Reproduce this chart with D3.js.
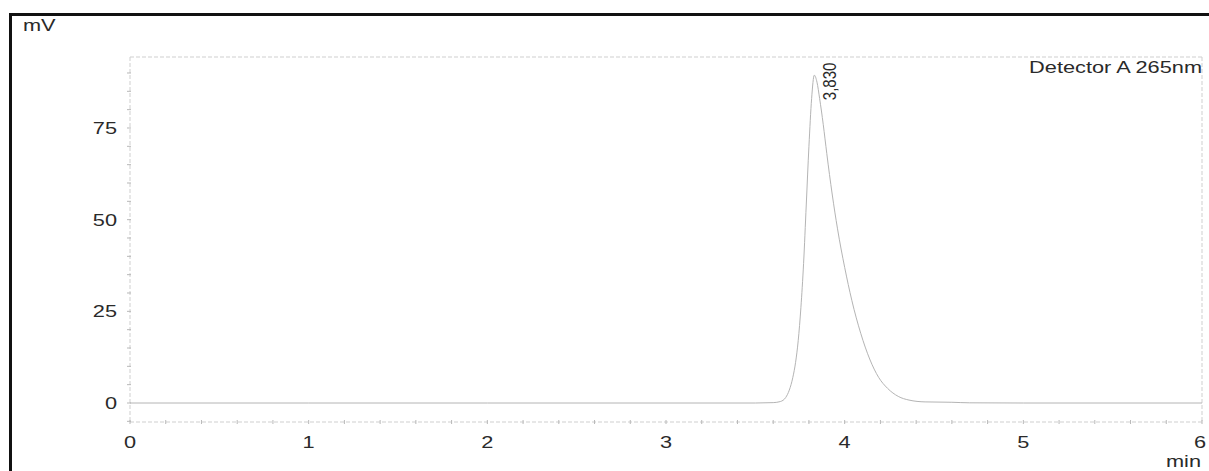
<!DOCTYPE html>
<html>
<head>
<meta charset="utf-8">
<script src="https://cdn.jsdelivr.net/npm/d3@7"></script>
<style>
  body { margin: 0; background: #fff; }
  text { font-family: "Liberation Sans", Arial, sans-serif; fill: #2a2a2a; }
</style>
</head>
<body>
<div id="graph1"></div>
<script>
// chromatogram trace, time in min, signal in mV
const times   = [0, 1, 2, 3, 3.5, 3.6, 3.64, 3.67, 3.69, 3.71, 3.725, 3.74, 3.755, 3.77, 3.785, 3.80, 3.815, 3.83, 3.845, 3.86, 3.88, 3.90, 3.93, 3.96, 4.00, 4.04, 4.09, 4.14, 4.19, 4.24, 4.30, 4.36, 4.45, 4.6, 4.7, 5, 6]
const signal  = [0, 0, 0, 0, 0, 0.1, 0.4, 1.5, 3.5, 7, 11, 17, 26, 38, 54, 70, 83, 89.4, 87.5, 83, 76, 68, 57, 47.5, 37, 28, 19, 12, 7, 4, 1.8, 0.8, 0.3, 0.2, 0.05, 0, 0]
const xTicks  = [0, 1, 2, 3, 4, 5, 6]
const yTicks  = [0, 25, 50, 75]
const peakTime  = 3.83
const peakValue = 89.4
const peakLabel = "3,830"
const detectorLabel = "Detector A 265nm"

const width = 1209, height = 471
const sx = 1.28  // the scan is stretched sideways, so is the text

let svg = d3.select("#graph1")
    .append("svg")
    .attr("width", width)
    .attr("height", height)

// frame of the printout
svg.append("path")
    .attr("d", `M10.5,${height} L10.5,14.5 L${width},14.5`)
    .attr("fill", "none")
    .attr("stroke", "#111")
    .attr("stroke-width", 3)

let x = d3.scaleLinear().domain([0, 6]).range([130, 1202])
let y = d3.scaleLinear().domain([-5.18, 94.36]).range([422, 57])

const grey = "#cfcfcf"

// plot box: top, right, baseline and axis lines
let box = svg.append("g").attr("stroke", grey).attr("stroke-width", 1).attr("stroke-dasharray", "4,2")
box.append("line").attr("x1", x(0)).attr("x2", x(6)).attr("y1", y(94.36)).attr("y2", y(94.36))
box.append("line").attr("x1", x(6)).attr("x2", x(6)).attr("y1", y(94.36)).attr("y2", y(-5.18))
box.append("line").attr("x1", x(0)).attr("x2", x(0)).attr("y1", y(94.36)).attr("y2", y(-5.18))
box.append("line").attr("x1", x(0)).attr("x2", x(6)).attr("y1", y(-5.18)).attr("y2", y(-5.18))

// minor ticks
let minorX = d3.range(0, 6.001, 0.2)
svg.append("g").selectAll("line").data(minorX).enter().append("line")
    .attr("x1", d => x(d)).attr("x2", d => x(d))
    .attr("y1", y(-5.18) - 2).attr("y2", y(-5.18) + 2)
    .attr("stroke", "#b8b8b8")
let minorY = d3.range(-5, 94, 5)
svg.append("g").selectAll("line").data(minorY).enter().append("line")
    .attr("x1", x(0) - 3).attr("x2", x(0) + 1)
    .attr("y1", d => y(d)).attr("y2", d => y(d))
    .attr("stroke", "#b8b8b8")

// axis labels
svg.append("g").selectAll("text").data(xTicks).enter().append("text")
    .attr("transform", d => `translate(${x(d) - (d == 6 ? 2 : 0)},448) scale(${sx},1)`)
    .attr("text-anchor", "middle")
    .style("font-size", "17px")
    .text(d => d)
svg.append("g").selectAll("text").data(yTicks).enter().append("text")
    .attr("transform", d => `translate(117,${y(d) + 6}) scale(${sx},1)`)
    .attr("text-anchor", "end")
    .style("font-size", "17px")
    .text(d => d)

svg.append("text")
    .attr("transform", `translate(23,31) scale(${sx},1)`)
    .style("font-size", "17px")
    .text("mV")
svg.append("text")
    .attr("transform", `translate(1201,467) scale(${sx},1)`)
    .attr("text-anchor", "end")
    .style("font-size", "17px")
    .text("min")
svg.append("text")
    .attr("transform", `translate(1202,73) scale(${sx},1)`)
    .attr("text-anchor", "end")
    .style("font-size", "17px")
    .text(detectorLabel)

// the trace
let line = d3.line()
    .x((d, i) => x(times[i]))
    .y(d => y(d))
    .curve(d3.curveMonotoneX)

svg.append("path")
    .datum(signal)
    .attr("d", line)
    .attr("fill", "none")
    .attr("stroke", "#b4b4b4")
    .attr("stroke-width", 1)

// peak retention time label
svg.append("text")
    .attr("transform", `translate(${x(peakTime) + 22},${y(peakValue) + 25}) scale(${sx},1) rotate(-90)`)
    .attr("text-anchor", "start")
    .style("font-size", "15px")
    .text(peakLabel)
</script>
</body>
</html>
